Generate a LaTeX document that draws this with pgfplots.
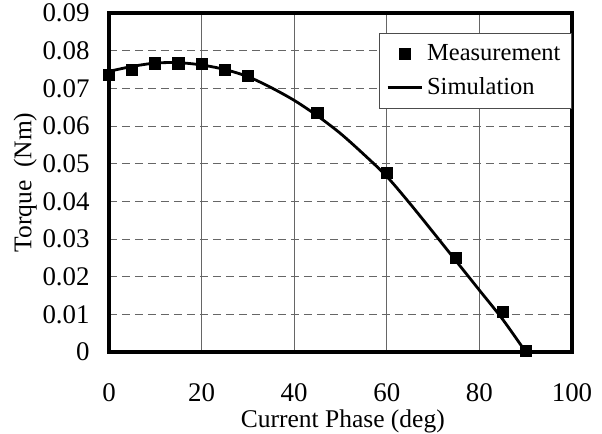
\documentclass[border=0pt]{standalone}
\usepackage{fontspec}
\setmainfont{Liberation Serif}
\usepackage{pgfplots}
\pgfplotsset{compat=1.18}

\begin{document}
\begin{tikzpicture}
\begin{axis}[
  scale only axis,
  width=231.5bp, height=169.5bp,
  xmin=0, xmax=100, ymin=0, ymax=0.09,
  scaled y ticks=false,
  xtick={0,20,40,60,80,100},
  ytick={0,0.01,0.02,0.03,0.04,0.05,0.06,0.07,0.08,0.09},
  yticklabels={0,0.01,0.02,0.03,0.04,0.05,0.06,0.07,0.08,0.09},
  major tick length=0pt,
  tick label style={font=\fontsize{13.5}{15}\selectfont},
  /pgf/number format/assume math mode=true,
  xticklabel style={anchor=center, inner sep=0pt, yshift=-20.5bp},
  yticklabel style={anchor=east, inner sep=0pt, xshift=-9.5bp},
  xlabel={Current Phase (deg)},
  ylabel={Torque\ \ (Nm)},
  label style={font=\fontsize{12.8}{14}\selectfont},
  xlabel style={at={(axis description cs:0.505,-0.206)}, anchor=center, inner sep=0pt},
  ylabel style={at={(axis description cs:-0.181,0.5)}, anchor=center},
  axis line style={line width=1.6bp},
  xmajorgrids, ymajorgrids,
  x grid style={black!60, line width=0.4bp},
  y grid style={black!60, line width=0.4bp, dash pattern=on 4bp off 2.5bp},
  clip=false,
  legend style={at={(1,0.941)}, anchor=north east, draw=black!70,
    line width=0.5bp, font=\fontsize{12.3}{14}\selectfont,
    inner xsep=3.5bp, inner ysep=3.5bp, row sep=3bp},
  legend cell align=left,
]
\addplot[only marks, mark=square*, mark size=2.8bp, black] coordinates {
  (0,0.0735) (5,0.0749) (10,0.0766) (15,0.0766) (20,0.0764) (25,0.0749)
  (30,0.0733) (45,0.0634) (60,0.0476) (75,0.0249) (85,0.0107) (90,0.0002)
};
\addlegendentry{Measurement}
\addplot[black, line width=1.4bp, smooth, no marks] coordinates {
  (0,0.0745) (5,0.0758) (10,0.0767) (15,0.0768) (20,0.0762) (25,0.0750)
  (30,0.0731) (35,0.0702) (40,0.0668) (45,0.0627) (50,0.0580) (55,0.0525)
  (60,0.0466) (65,0.0394) (70,0.0318) (75,0.0241) (80,0.0164) (85,0.0087)
  (90,0.0)
};
\addlegendentry{Simulation}
\path (rel axis cs:-0.2354,-0.2301) -- (rel axis cs:1.0648,1.0383);
\end{axis}
\end{tikzpicture}
\end{document}
